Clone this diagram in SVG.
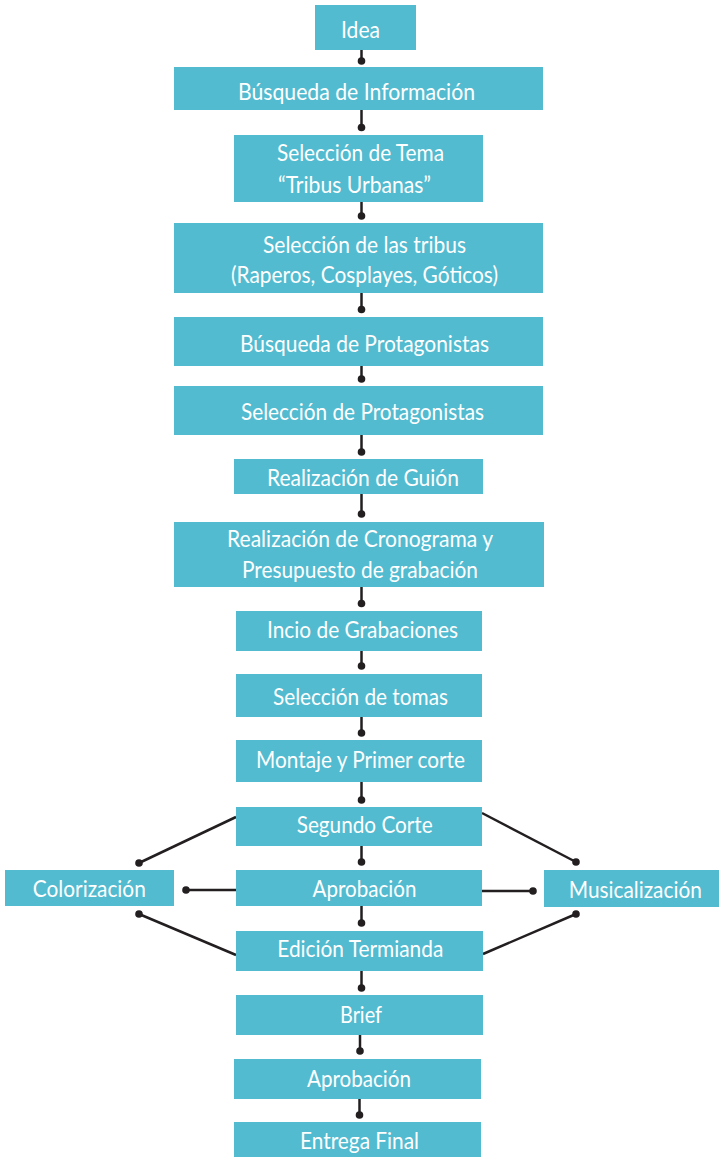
<svg xmlns="http://www.w3.org/2000/svg" width="719" height="1157" viewBox="0 0 719 1157">
<style>
.box{fill:#52bbd0}
.t{fill:#ffffff;font-family:Lato,"Liberation Sans",sans-serif;font-size:24px;text-anchor:middle}
.c line{stroke:#231f20;stroke-width:2.5}
.c circle{fill:#231f20}
</style>
<rect width="719" height="1157" fill="#ffffff"/>
<g class="c" id="connectors">
<line x1="361.5" y1="50" x2="361.5" y2="61"/><circle cx="361.5" cy="61" r="3.8"/>
<line x1="361.5" y1="110" x2="361.5" y2="127.5"/><circle cx="361.5" cy="127.5" r="3.8"/>
<line x1="361.5" y1="202" x2="361.5" y2="216"/><circle cx="361.5" cy="216" r="3.8"/>
<line x1="361.5" y1="293" x2="361.5" y2="309.5"/><circle cx="361.5" cy="309.5" r="3.8"/>
<line x1="361.5" y1="366" x2="361.5" y2="379"/><circle cx="361.5" cy="379" r="3.8"/>
<line x1="361.5" y1="435" x2="361.5" y2="452"/><circle cx="361.5" cy="452" r="3.8"/>
<line x1="361.5" y1="494" x2="361.5" y2="514"/><circle cx="361.5" cy="514" r="3.8"/>
<line x1="361.5" y1="587" x2="361.5" y2="603.5"/><circle cx="361.5" cy="603.5" r="3.8"/>
<line x1="361.5" y1="651" x2="361.5" y2="666"/><circle cx="361.5" cy="666" r="3.8"/>
<line x1="361.5" y1="717" x2="361.5" y2="733"/><circle cx="361.5" cy="733" r="3.8"/>
<line x1="361.5" y1="782" x2="361.5" y2="800"/><circle cx="361.5" cy="800" r="3.8"/>
<line x1="361.5" y1="846" x2="361.5" y2="862"/><circle cx="361.5" cy="862" r="3.8"/>
<line x1="361.5" y1="906" x2="361.5" y2="923"/><circle cx="361.5" cy="923" r="3.8"/>
<line x1="361.5" y1="971" x2="361.5" y2="988"/><circle cx="361.5" cy="988" r="3.8"/>
<line x1="360" y1="1035" x2="360" y2="1051"/><circle cx="360" cy="1051" r="3.8"/>
<line x1="359.5" y1="1099" x2="359.5" y2="1115"/><circle cx="359.5" cy="1115" r="3.8"/>
<line x1="236" y1="817" x2="139" y2="863"/><circle cx="139" cy="863" r="3.8"/>
<line x1="236" y1="890" x2="186" y2="890"/><circle cx="186" cy="890" r="3.8"/>
<line x1="236" y1="955" x2="139" y2="914"/><circle cx="139" cy="914" r="3.8"/>
<line x1="482" y1="813" x2="576" y2="862"/><circle cx="576" cy="862" r="3.8"/>
<line x1="482" y1="891" x2="533" y2="891"/><circle cx="533" cy="891" r="3.8"/>
<line x1="483" y1="954" x2="576" y2="914"/><circle cx="576" cy="914" r="3.8"/>
</g>
<g id="n-idea"><rect class="box" x="315" y="5" width="101" height="45"/><text class="t" x="360.5" y="37.5" textLength="39" lengthAdjust="spacingAndGlyphs">Idea</text></g>
<g id="n-busqueda-info"><rect class="box" x="174" y="67" width="369" height="43"/><text class="t" x="356.5" y="100" textLength="237" lengthAdjust="spacingAndGlyphs">Búsqueda de Información</text></g>
<g id="n-tema"><rect class="box" x="234" y="135" width="249" height="67"/><text class="t" x="360.5" y="161" textLength="167" lengthAdjust="spacingAndGlyphs">Selección de Tema</text><text class="t" x="354.5" y="192.7" textLength="153" lengthAdjust="spacingAndGlyphs">“Tribus Urbanas”</text></g>
<g id="n-tribus"><rect class="box" x="174" y="223" width="369" height="70"/><text class="t" x="364.5" y="253.3" textLength="203" lengthAdjust="spacingAndGlyphs">Selección de las tribus</text><text class="t" x="364.5" y="283.3" textLength="267" lengthAdjust="spacingAndGlyphs">(Raperos, Cosplayes, Góticos)</text></g>
<g id="n-busqueda-prot"><rect class="box" x="174" y="317" width="369" height="49"/><text class="t" x="364.5" y="351.7" textLength="249" lengthAdjust="spacingAndGlyphs">Búsqueda de Protagonistas</text></g>
<g id="n-seleccion-prot"><rect class="box" x="174" y="386" width="369" height="49"/><text class="t" x="362.5" y="420" textLength="243" lengthAdjust="spacingAndGlyphs">Selección de Protagonistas</text></g>
<g id="n-guion"><rect class="box" x="234" y="459" width="249" height="35"/><text class="t" x="363" y="486" textLength="192" lengthAdjust="spacingAndGlyphs">Realización de Guión</text></g>
<g id="n-cronograma"><rect class="box" x="174" y="522" width="370" height="65"/><text class="t" x="360" y="546.7" textLength="266" lengthAdjust="spacingAndGlyphs">Realización de Cronograma y</text><text class="t" x="360" y="578" textLength="236" lengthAdjust="spacingAndGlyphs">Presupuesto de grabación</text></g>
<g id="n-incio"><rect class="box" x="236" y="611" width="246" height="40"/><text class="t" x="362.5" y="638.3" textLength="191" lengthAdjust="spacingAndGlyphs">Incio de Grabaciones</text></g>
<g id="n-tomas"><rect class="box" x="236" y="674" width="246" height="43"/><text class="t" x="360.5" y="705" textLength="175" lengthAdjust="spacingAndGlyphs">Selección de tomas</text></g>
<g id="n-montaje"><rect class="box" x="236" y="740" width="246" height="42"/><text class="t" x="360.5" y="768.3" textLength="209" lengthAdjust="spacingAndGlyphs">Montaje y Primer corte</text></g>
<g id="n-segundo"><rect class="box" x="236" y="807" width="246" height="39"/><text class="t" x="364.7" y="833.3" textLength="136" lengthAdjust="spacingAndGlyphs">Segundo Corte</text></g>
<g id="n-aprobacion1"><rect class="box" x="236" y="870" width="246" height="36"/><text class="t" x="364.5" y="896.7" textLength="104" lengthAdjust="spacingAndGlyphs">Aprobación</text></g>
<g id="n-edicion"><rect class="box" x="236" y="931" width="247" height="40"/><text class="t" x="360.3" y="956.7" textLength="166" lengthAdjust="spacingAndGlyphs">Edición Termianda</text></g>
<g id="n-colorizacion"><rect class="box" x="5" y="870" width="169" height="36"/><text class="t" x="89.3" y="896.7" textLength="113" lengthAdjust="spacingAndGlyphs">Colorización</text></g>
<g id="n-musicalizacion"><rect class="box" x="544" y="870" width="175" height="37"/><text class="t" x="635.3" y="898.3" textLength="133" lengthAdjust="spacingAndGlyphs">Musicalización</text></g>
<g id="n-brief"><rect class="box" x="236" y="995" width="247" height="40"/><text class="t" x="361" y="1022.7" textLength="42" lengthAdjust="spacingAndGlyphs">Brief</text></g>
<g id="n-aprobacion2"><rect class="box" x="234" y="1059" width="247" height="40"/><text class="t" x="359" y="1086.7" textLength="104" lengthAdjust="spacingAndGlyphs">Aprobación</text></g>
<g id="n-entrega"><rect class="box" x="234" y="1122" width="247" height="35"/><text class="t" x="359.5" y="1149.3" textLength="119" lengthAdjust="spacingAndGlyphs">Entrega Final</text></g>
</svg>
